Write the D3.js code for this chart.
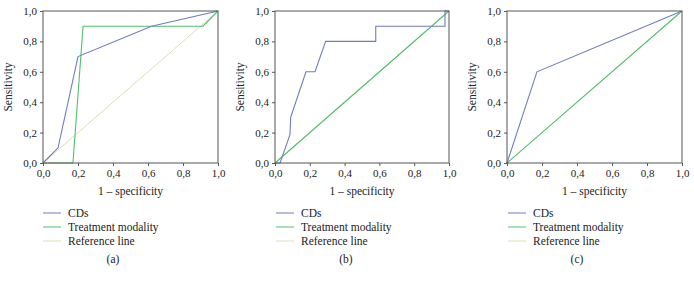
<!DOCTYPE html>
<html>
<head>
<meta charset="utf-8">
<script src="https://cdn.jsdelivr.net/npm/d3@7"></script>
<style>
  body { margin: 0; background: #fff; }
  svg text { font-family: "Liberation Serif", "DejaVu Serif", "Times New Roman", serif; fill: #222; }
</style>
</head>
<body>
<div id="chart"></div>
<script>
const width = 694
const height = 281
const serif = "'Liberation Serif', 'DejaVu Serif', 'Times New Roman', serif"

// tick labels
const ticks = [0, 0.2, 0.4, 0.6, 0.8, 1.0]
const tickLabels = ["0,0", "0,2", "0,4", "0,6", "0,8", "1,0"]
const seriesNames = ["CDs", "Treatment modality", "Reference line"]
const captions = ["(a)", "(b)", "(c)"]

// panel (a)
const cdsA = [[0, 0], [0.086, 0.1], [0.2, 0.7], [0.62, 0.9], [1, 1]]
const treatA = [[0, 0], [0.171, 0], [0.229, 0.9], [0.914, 0.9], [1, 1]]
// panel (b)
const cdsB = [[0, 0], [0.029, 0], [0.086, 0.186], [0.09, 0.3], [0.178, 0.6], [0.23, 0.6],
  [0.291, 0.8], [0.579, 0.8], [0.579, 0.9], [0.977, 0.9], [0.977, 1], [1, 1]]
const treatB = [[0, 0], [1, 1]]
// panel (c)
const cdsC = [[0, 0], [0.171, 0.6], [1, 1]]
const treatC = [[0, 0], [1, 1]]
const refLine = [[0, 0], [1, 1]]

const colors = { cds: "#6f7cc4", treat: "#52c06c", ref: "#e3ddb4" }

const panels = [
  { left: 43, right: 218, cds: cdsA, treat: treatA, legX: 43, capX: 113 },
  { left: 275, right: 449, cds: cdsB, treat: treatB, legX: 276, capX: 346 },
  { left: 507, right: 682, cds: cdsC, treat: treatC, legX: 508, capX: 577 }
]
const plotTop = 11, plotBottom = 163

const svg = d3.select("#chart").append("svg").attr("width", width).attr("height", height)
  .attr("font-family", serif)

panels.forEach((p, i) => {
  const x = d3.scaleLinear().domain([0, 1]).range([p.left, p.right])
  const y = d3.scaleLinear().domain([0, 1]).range([plotBottom, plotTop])
  const g = svg.append("g")

  const line = d3.line().x(d => x(d[0])).y(d => y(d[1]))

  g.append("path").datum(refLine).attr("d", line)
    .attr("fill", "none").attr("stroke", colors.ref).attr("stroke-width", 1)
  g.append("path").datum(p.treat).attr("d", line)
    .attr("fill", "none").attr("stroke", colors.treat).attr("stroke-width", 1.1)
  g.append("path").datum(p.cds).attr("d", line)
    .attr("fill", "none").attr("stroke", colors.cds).attr("stroke-width", 1.1)

  // frame
  g.append("rect").attr("x", p.left).attr("y", plotTop)
    .attr("width", p.right - p.left).attr("height", plotBottom - plotTop)
    .attr("fill", "none").attr("stroke", "#555").attr("stroke-width", 1)

  const xAxis = d3.axisBottom(x).tickValues(ticks).tickFormat((d, j) => tickLabels[j]).tickSize(3).tickPadding(3)
  const yAxis = d3.axisLeft(y).tickValues(ticks).tickFormat((d, j) => tickLabels[j]).tickSize(3).tickPadding(3)
  const xg = g.append("g").attr("transform", `translate(0,${plotBottom})`).call(xAxis)
  const yg = g.append("g").attr("transform", `translate(${p.left},0)`).call(yAxis)
  ;[xg, yg].forEach(a => {
    a.attr("font-family", serif).attr("font-size", 11)
    a.select(".domain").remove()
    a.selectAll("line").attr("stroke", "#555")
    a.selectAll("text").attr("font-family", serif).attr("font-size", 11).attr("fill", "#222")
  })

  g.append("text").attr("x", (p.left + p.right) / 2).attr("y", 195)
    .attr("text-anchor", "middle").attr("font-size", 11.5).text("1 \u2013 specificity")
  g.append("text").attr("transform", `translate(${p.left - 31},${(plotTop + plotBottom) / 2}) rotate(-90)`)
    .attr("text-anchor", "middle").attr("font-size", 11.5).text("Sensitivity")

  // legend
  const legColors = [colors.cds, colors.treat, colors.ref]
  seriesNames.forEach((name, k) => {
    const ly = 213 + k * 14
    g.append("line").attr("x1", p.legX).attr("x2", p.legX + 18).attr("y1", ly).attr("y2", ly)
      .attr("stroke", legColors[k]).attr("stroke-width", 1)
    g.append("text").attr("x", p.legX + 25).attr("y", ly + 4).attr("font-size", 11.5).text(name)
  })

  g.append("text").attr("x", p.capX).attr("y", 263).attr("text-anchor", "middle")
    .attr("font-size", 11.5).text(captions[i])
})
</script>
</body>
</html>
